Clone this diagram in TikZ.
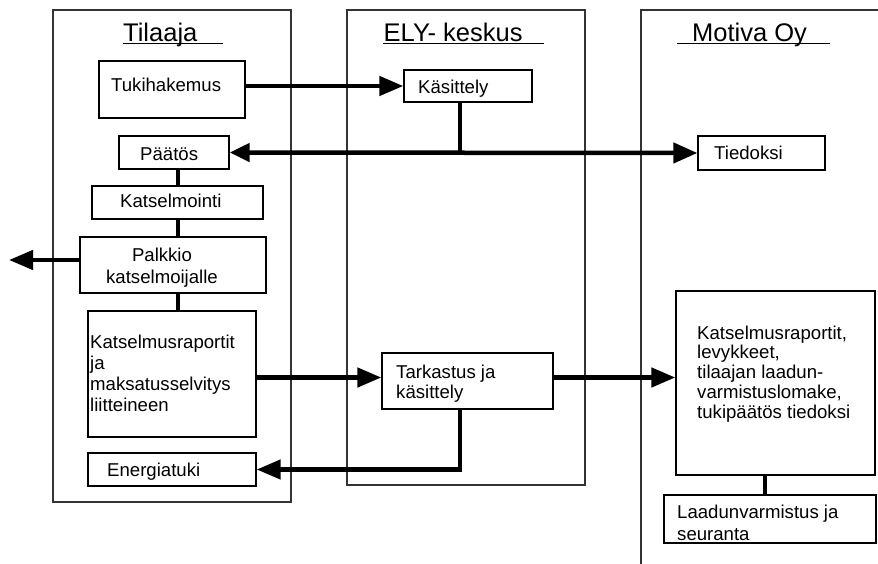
\documentclass[tikz,border=0pt]{standalone}
\usepackage{fontspec}
\setmainfont{Liberation Sans}
\usetikzlibrary{arrows.meta}
\begin{document}
\begin{tikzpicture}[x=1pt,y=-1pt,
  lane/.style={draw=black!80, line width=1.2pt},
  box/.style={draw, line width=1.3pt, fill=white, inner sep=0pt},
  txt/.style={inner sep=0pt, anchor=base west, align=left, font=\fontsize{18.6}{21}\selectfont},
  ctxt/.style={inner sep=0pt, anchor=base, align=center, font=\fontsize{18.6}{21}\selectfont},
  ttl/.style={inner sep=0pt, anchor=base west, font=\fontsize{25.5}{30}\selectfont},
  uline/.style={line width=1.8pt},
  conn/.style={line width=4.5pt},
  arr/.style={conn, -{Triangle[length=24pt,width=19pt]}},
]
\useasboundingbox (0,0) rectangle (878,564);
\fill[white] (0,0) rectangle (878,564);

% swimlanes
\draw[lane] (53,10) rectangle (291,502);
\draw[lane] (347,10) rectangle (585,485);
\draw[lane] (641,564) -- (641,10) -- (878,10);

% titles
\node[ttl] (t1) at (123,41.5) {Tilaaja};
\node[ttl] (t2) at (383.5,41.5) {ELY- keskus};
\node[ttl] (t3) at (692,41.5) {Motiva Oy};
\draw[uline] (123,43.5) -- (223,43.5);
\draw[uline] (383,43.5) -- (544,43.5);
\draw[uline] (677,43.5) -- (830,43.5);

% boxes
\node[box, minimum width=146, minimum height=57] (tuki) at (172,89.5) {};
\node[box, minimum width=128, minimum height=32] (kas) at (468,86) {};
\node[box, minimum width=110, minimum height=33] (paatos) at (174,152.5) {};
\node[box, minimum width=127, minimum height=34] (tied) at (761.5,153) {};
\node[box, minimum width=171, minimum height=33] (katsel) at (177.5,202.5) {};
\node[box, minimum width=186, minimum height=56] (palk) at (173,265) {};
\node[box, minimum width=168, minimum height=126] (rap) at (172,374) {};
\node[box, minimum width=171, minimum height=56] (tark) at (467.5,381) {};
\node[box, minimum width=199, minimum height=184] (mot) at (775.5,383) {};
\node[box, minimum width=212, minimum height=48] (laad) at (770,519) {};
\node[box, minimum width=168, minimum height=33] (ener) at (172,469.5) {};

% texts (base = baseline of the last line)
\node[txt] (x-tuki) at (111,92) {Tukihakemus};
\node[txt] (x-kas) at (418,94) {Käsittely};
\node[txt] (x-paatos) at (140,160.5) {Päätös};
\node[txt] (x-tied) at (714,159.5) {Tiedoksi};
\node[txt] (x-katsel) at (120,207.5) {Katselmointi};
\node[ctxt] (x-palk) at (162,283) {Palkkio\\katselmoijalle};
\node[txt] (x-rap) at (90,411) {Katselmusraportit\\ja\\maksatusselvitys\\liitteineen};
\node[txt, font=\fontsize{18.6}{20}\selectfont] (x-tark) at (396,398) {Tarkastus ja\\käsittely};
\node[txt, font=\fontsize{18.6}{19.75}\selectfont] (x-mot) at (697,418) {Katselmusraportit,\\levykkeet,\\tilaajan laadun-\\varmistuslomake,\\tukipäätös tiedoksi};
\node[txt, font=\fontsize{18.6}{22}\selectfont] (x-laad) at (677,540) {Laadunvarmistus ja\\seuranta};
\node[txt] (x-ener) at (107,476.5) {Energiatuki};

% helper coordinates
\coordinate (spine) at (178,0);
\coordinate (cx) at (460,0);
\coordinate (mx) at (765,0);
\coordinate (r4) at (0,377.5);
\coordinate (out) at (9,260);

% connectors
\draw[arr] (tuki.east |- kas.west) -- (kas.west);
\draw[conn, {Triangle[length=20pt,width=18pt]}-{Triangle[length=24pt,width=20pt]}] (paatos.east) -- (tied.west);
\draw[conn] (kas.south -| cx) -- (cx |- paatos.east);
\draw[conn] (paatos.south -| spine) -- (katsel.north -| spine);
\draw[conn] (katsel.south -| spine) -- (palk.north -| spine);
\draw[conn] (palk.south -| spine) -- (rap.north -| spine);
\draw[arr] (palk.west |- out) -- (out);
\draw[arr] (rap.east |- r4) -- (tark.west |- r4);
\draw[arr] (tark.east |- r4) -- (mot.west |- r4);
\draw[arr] (tark.south -| cx) |- (ener.east);
\draw[conn] (mot.south -| mx) -- (laad.north -| mx);
\end{tikzpicture}
\end{document}
